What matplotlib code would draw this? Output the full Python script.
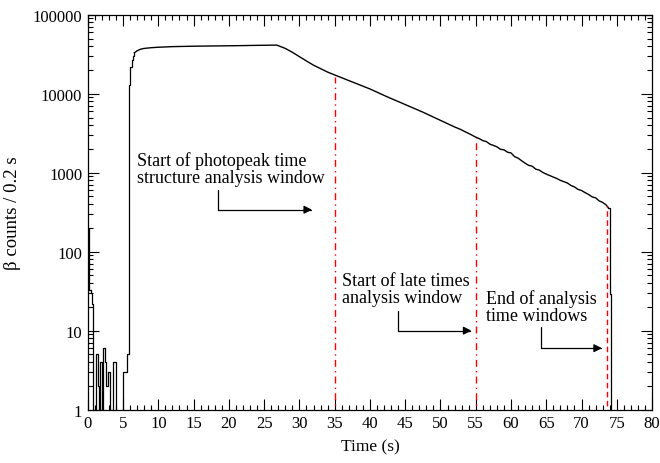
import numpy as np
import matplotlib
matplotlib.use("Agg")
import matplotlib.pyplot as plt
from matplotlib.ticker import MultipleLocator, LogLocator, FixedLocator, NullFormatter

plt.rcParams['font.family'] = ['Liberation Serif', 'DejaVu Serif']

# noisy start of the run, 0.2 s bins (left edges)
early_t = [0.0, 0.2, 0.4, 0.6, 0.8, 1.0, 1.2, 1.4, 1.6, 1.8, 2.0, 2.2, 2.4,
           2.6, 2.8, 3.0, 3.2, 3.4, 3.6, 3.8, 4.0, 4.2, 4.4, 4.6, 4.8, 5.0,
           5.2, 5.4, 5.6, 5.8, 6.0, 6.2, 6.4]
early_counts = [200, 33, 30, 22, 1, 0, 5, 2, 0, 4, 1, 6, 4,
                2, 3, 3, 1, 0, 4, 4, 1, 0, 0, 0, 1, 3,
                3, 3, 5, 13000, 22000, 27000, 30000]

# main beam-on curve
main_t = [6.6, 7.0, 7.5, 8.0, 9.0, 10, 12, 15, 18, 21, 24, 26.8, 28, 29, 30,
          31, 32, 33, 34, 35, 37, 40, 42.5, 45, 47.5, 50, 52, 52.8, 53.5, 54.2,
          54.9, 55.5, 56.0, 56.5, 57.0, 57.5, 58.0, 58.5, 59.0, 59.5, 60.0,
          60.5, 61.0, 61.5, 62.0, 62.5, 63.0, 63.5, 64.0, 64.5, 65.0, 65.5,
          66.0, 66.5, 67.0, 67.5, 68.0, 68.5, 69.0, 69.5, 70.0, 70.5, 71.0,
          71.5, 72.0, 72.5, 73.0, 73.5, 73.8]
main_counts = [33000, 35000, 36700, 37500, 38300, 38800, 39500, 40000, 40300,
               40600, 41000, 41300, 37500, 33500, 29500, 26000, 23000, 20800,
               18800, 17300, 14700, 11500, 9100, 7300, 5850, 4600, 3800, 3550,
               3300, 3080, 2850, 2700, 2550, 2480, 2300, 2220, 2130, 1980, 1950,
               1820, 1780, 1600, 1530, 1420, 1320, 1240, 1210, 1110, 1080, 1010,
               960, 920, 880, 845, 800, 770, 740, 690, 660, 615, 595, 560, 530,
               495, 480, 440, 420, 390, 360]

# beam-off drop
end_t = [73.8, 74.0, 74.2, 74.4]
end_counts = [360, 29, 0, 0]

# analysis window boundaries
window_t = [35, 55, 73.6]
window_top = [16500, 2750, 375]
window_ls = [(0, (5, 3, 1, 3)), (0, (5, 3, 1, 3)), (0, (4, 2.5))]

fig = plt.figure(figsize=(6.6, 4.64), dpi=100)
ax = fig.add_axes([0.133, 0.115, 0.855, 0.851])

ax.step(early_t + [6.6], np.maximum(early_counts + [main_counts[0]], 0.5),
        where='post', color='black', lw=0.9)
ax.plot(main_t, main_counts, color='black', lw=1.0)
ax.step(end_t, np.maximum(end_counts, 0.5), where='post', color='black', lw=0.9)

for t, top, ls in zip(window_t, window_top, window_ls):
    ax.plot([t, t], [0.5, top], color='red', lw=1.0, linestyle=ls)

ax.set_yscale('log')
ax.set_xlim(0, 80)
ax.set_ylim(1, 100000)

ax.xaxis.set_major_locator(MultipleLocator(5))
ax.xaxis.set_minor_locator(MultipleLocator(1))
ax.yaxis.set_major_locator(FixedLocator([1, 10, 100, 1000, 10000, 100000]))
ax.yaxis.set_minor_locator(LogLocator(base=10, subs=np.arange(2, 10)))
ax.yaxis.set_minor_formatter(NullFormatter())
ax.set_yticklabels(['1', '10', '100', '1000', '10000', '100000'])

ax.tick_params(which='both', direction='in', top=True, right=True,
               labelsize=12, width=0.8, colors='black')
ax.tick_params(which='major', length=8, pad=4)
ax.tick_params(which='minor', length=3.5)
for s in ax.spines.values():
    s.set_linewidth(0.9)

ax.set_xlabel('Time (s)', fontsize=12.5, labelpad=5)
ax.set_ylabel('β counts / 0.2 s', fontsize=13.5, labelpad=8)

arrow = dict(arrowstyle='-|>', color='black', lw=0.9, mutation_scale=12,
             shrinkA=0, shrinkB=0, connectionstyle='angle,angleA=90,angleB=0,rad=0')
txt = dict(fontsize=13, ha='left', va='center', linespacing=1.0)

ax.text(7.0, 1120, 'Start of photopeak time\nstructure analysis window', **txt)
ax.annotate('', xy=(31.8, 340), xytext=(18.5, 600), arrowprops=arrow)

ax.text(36.0, 34, 'Start of late times\nanalysis window', **txt)
ax.annotate('', xy=(54.4, 10), xytext=(44.0, 18), arrowprops=arrow)

ax.text(56.5, 20, 'End of analysis\ntime windows', **txt)
ax.annotate('', xy=(72.9, 6), xytext=(64.2, 11), arrowprops=arrow)

fig.savefig('out.png', dpi=100)
plt.close(fig)
